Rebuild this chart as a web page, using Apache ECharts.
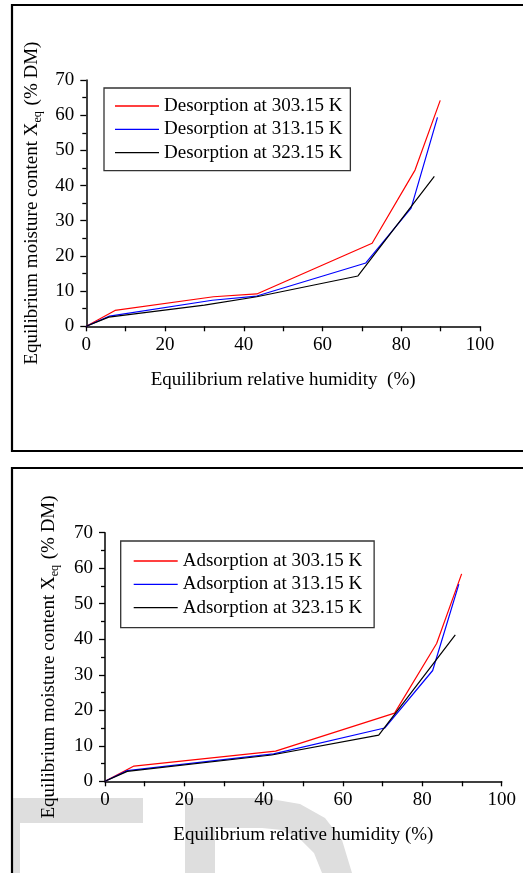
<!DOCTYPE html>
<html>
<head>
<meta charset="utf-8">
<script src="https://cdn.jsdelivr.net/npm/echarts@6/dist/echarts.min.js"></script>
<style>
html,body{margin:0;padding:0;background:#fff;}
#chart{width:523px;height:873px;}
</style>
</head>
<body>
<div id="chart"></div>
<script>
// ---- Data ----
const xTicks = [0, 20, 40, 60, 80, 100];
const yTicks = [0, 10, 20, 30, 40, 50, 60, 70];

const desNames = ['Desorption at 303.15 K', 'Desorption at 313.15 K', 'Desorption at 323.15 K'];
const rhDes303 = [0, 7.3, 32.3, 43.3, 72.6, 83.5, 89.9];
const des303   = [0, 4.5, 8.4, 9.2, 23.6, 44.4, 64.2];
const rhDes313 = [0, 5.9, 32.0, 43.3, 71.0, 82.5, 89.2];
const des313   = [0, 2.9, 7.4, 8.6, 18.0, 33.6, 59.4];
const rhDes323 = [0, 5.7, 30.0, 43.3, 69.0, 88.4];
const des323   = [0, 2.6, 6.0, 8.4, 14.3, 42.6];

const adsNames = ['Adsorption at 303.15 K', 'Adsorption at 313.15 K', 'Adsorption at 323.15 K'];
const rhAds303 = [0, 7.3, 43.0, 73.0, 83.6, 89.9];
const ads303   = [0, 4.3, 8.5, 19.2, 38.8, 58.4];
const rhAds313 = [0, 5.6, 42.5, 70.5, 82.6, 89.2];
const ads313   = [0, 3.0, 7.7, 15.0, 31.2, 55.5];
const rhAds323 = [0, 5.6, 42.0, 69.0, 88.3];
const ads323   = [0, 2.8, 7.4, 13.0, 41.2];

const colors = ['#ff0000', '#0000ff', '#000000'];
const xTitleDes = 'Equilibrium relative humidity  (%)';
const xTitleAds = 'Equilibrium relative humidity (%)';
const yTitle = '{t|Equilibrium moisture content X}{s|eq}{t| (% DM)}';

// ---- Build ----
const FONT = 'Liberation Serif';
const pairs = (xs, ys) => xs.map((x, i) => [x, ys[i]]);

function xAxis(gi, name, gap) {
  return {
    type: 'value', gridIndex: gi, min: xTicks[0], max: xTicks[xTicks.length - 1],
    interval: xTicks[1] - xTicks[0],
    name: name, nameLocation: 'middle', nameGap: gap,
    nameTextStyle: { fontFamily: FONT, fontSize: 19, color: '#000' },
    axisLine: { show: true, lineStyle: { color: '#000', width: 1.5 } },
    axisTick: { show: true, inside: false, length: 5, lineStyle: { color: '#000', width: 1.3 } },
    minorTick: { show: true, splitNumber: 2, length: 5, lineStyle: { color: '#000', width: 1.3 } },
    axisLabel: { fontFamily: FONT, fontSize: 19, color: '#000', margin: 9 },
    splitLine: { show: false }
  };
}
function yAxis(gi, gap) {
  return {
    type: 'value', gridIndex: gi, min: yTicks[0], max: yTicks[yTicks.length - 1],
    interval: yTicks[1] - yTicks[0],
    name: yTitle, nameLocation: 'middle', nameGap: gap,
    nameTextStyle: {
      fontFamily: FONT, fontSize: 19, color: '#000',
      rich: {
        t: { fontFamily: FONT, fontSize: 19, color: '#000', lineHeight: 24, verticalAlign: 'middle' },
        s: { fontFamily: FONT, fontSize: 12, color: '#000', lineHeight: 24, verticalAlign: 'bottom', padding: [0, 1, 0, 0] }
      }
    },
    axisLine: { show: true, lineStyle: { color: '#000', width: 1.5 } },
    axisTick: { show: true, inside: false, length: 6, lineStyle: { color: '#000', width: 1.3 } },
    minorTick: { show: true, splitNumber: 2, length: 4, lineStyle: { color: '#000', width: 1.3 } },
    axisLabel: { fontFamily: FONT, fontSize: 19, color: '#000', margin: 12 },
    splitLine: { show: false }
  };
}
function series(name, xs, ys, idx, color) {
  return {
    name: name, type: 'line', xAxisIndex: idx, yAxisIndex: idx,
    data: pairs(xs, ys), symbol: 'none', smooth: false, z: 5,
    lineStyle: { color: color, width: 1.2 }, itemStyle: { color: color }
  };
}
function legend(names, left, top, pad) {
  return {
    data: names, orient: 'vertical', left: left, top: top,
    padding: pad, itemGap: 4.3, itemWidth: 44, itemHeight: 1.3, icon: 'rect',
    borderColor: '#333', borderWidth: 1.3, backgroundColor: '#fff',
    textStyle: { fontFamily: FONT, fontSize: 19, color: '#000', lineHeight: 19 },
    selectedMode: false
  };
}

const gray = '#dedede';
const option = {
  backgroundColor: '#fff',
  animation: false,
  grid: [
    { left: 86.3, top: 80, width: 393.7, height: 246.3 },
    { left: 105, top: 532.7, width: 396.7, height: 248.6 }
  ],
  xAxis: [xAxis(0, xTitleDes, 44), xAxis(1, xTitleAds, 44)],
  yAxis: [yAxis(0, 42), yAxis(1, 44)],
  legend: [
    legend(desNames, 104, 88, [8.5, 8, 8.5, 11]),
    legend(adsNames, 120.7, 541, [10.5, 12, 10.5, 13])
  ],
  series: [
    series(desNames[0], rhDes303, des303, 0, colors[0]),
    series(desNames[1], rhDes313, des313, 0, colors[1]),
    series(desNames[2], rhDes323, des323, 0, colors[2]),
    series(adsNames[0], rhAds303, ads303, 1, colors[0]),
    series(adsNames[1], rhAds313, ads313, 1, colors[1]),
    series(adsNames[2], rhAds323, ads323, 1, colors[2])
  ],
  graphic: [
    // watermark
    { type: 'rect', z: -10, shape: { x: 12, y: 798, width: 131, height: 25 }, style: { fill: gray } },
    { type: 'rect', z: -10, shape: { x: 12, y: 823, width: 8, height: 60 }, style: { fill: gray } },
    { type: 'polygon', z: -10, shape: { points: [[185,798],[265,798],[300,804],[325,818],[342,840],[352,873],[322,873],[314,853],[300,839],[282,830],[262,828],[215,828],[215,873],[185,873]] }, style: { fill: gray } },
    // panel borders
    { type: 'rect', z: 100, shape: { x: 12, y: 5, width: 530, height: 446 }, style: { fill: 'none', stroke: '#000', lineWidth: 2.2 } },
    { type: 'rect', z: 100, shape: { x: 12, y: 468, width: 530, height: 430 }, style: { fill: 'none', stroke: '#000', lineWidth: 2.2 } }
  ]
};
const chart = echarts.init(document.getElementById('chart'), null, { renderer: 'canvas' });
chart.setOption(option);
</script>
</body>
</html>
